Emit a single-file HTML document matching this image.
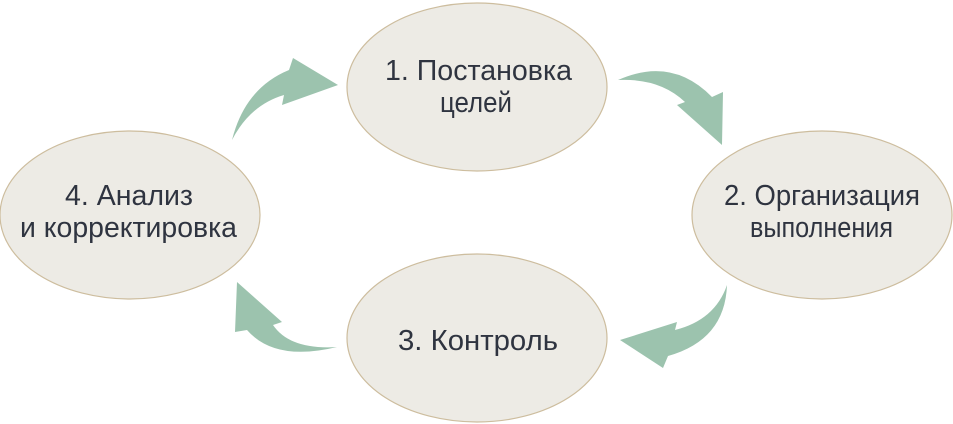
<!DOCTYPE html>
<html><head><meta charset="utf-8"><style>
html,body{margin:0;padding:0;background:#fff;}
svg{display:block;}
text{font-family:"Liberation Sans",sans-serif;font-size:29px;fill:#2f3440;}
</style></head><body>
<svg width="953" height="424" viewBox="0 0 953 424">
<g fill="#edebe5" stroke="#cdbd9e" stroke-width="1.2">
<ellipse cx="477" cy="87" rx="130" ry="84"/>
<ellipse cx="822" cy="215" rx="130" ry="84"/>
<ellipse cx="477" cy="338" rx="130" ry="84"/>
<ellipse cx="130" cy="215" rx="130" ry="84"/>
</g>
<g fill="#9cc3ae">
<path d="M232,140 Q245,88 289,70 L293,58 L338,85 L282,105 L284,95 Q250,105 232,140 Z"/>
<path d="M618,80 Q672,56 712,97 L723,92 L722,145 L677,105 L685,102 Q660,78 618,80 Z"/>
<path d="M727,285 Q725,340 668,356 L663,368 L620,340 L677,322 L675,330 Q715,320 727,285 Z"/>
<path d="M337,347 Q290,350 273,325 L282,322 L237,282 L235,332 L247,330 Q275,362 337,347 Z"/>
</g>
<text x="385" y="80" textLength="187" lengthAdjust="spacingAndGlyphs">1. Постановка</text>
<text x="440" y="112" textLength="72" lengthAdjust="spacingAndGlyphs">целей</text>
<text x="724" y="205" textLength="196" lengthAdjust="spacingAndGlyphs">2. Организация</text>
<text x="750" y="237" textLength="143" lengthAdjust="spacingAndGlyphs">выполнения</text>
<text x="398" y="350" textLength="160" lengthAdjust="spacingAndGlyphs">3. Контроль</text>
<text x="65" y="205" textLength="128" lengthAdjust="spacingAndGlyphs">4. Анализ</text>
<text x="20" y="237" textLength="217" lengthAdjust="spacingAndGlyphs">и корректировка</text>
</svg>
</body></html>
